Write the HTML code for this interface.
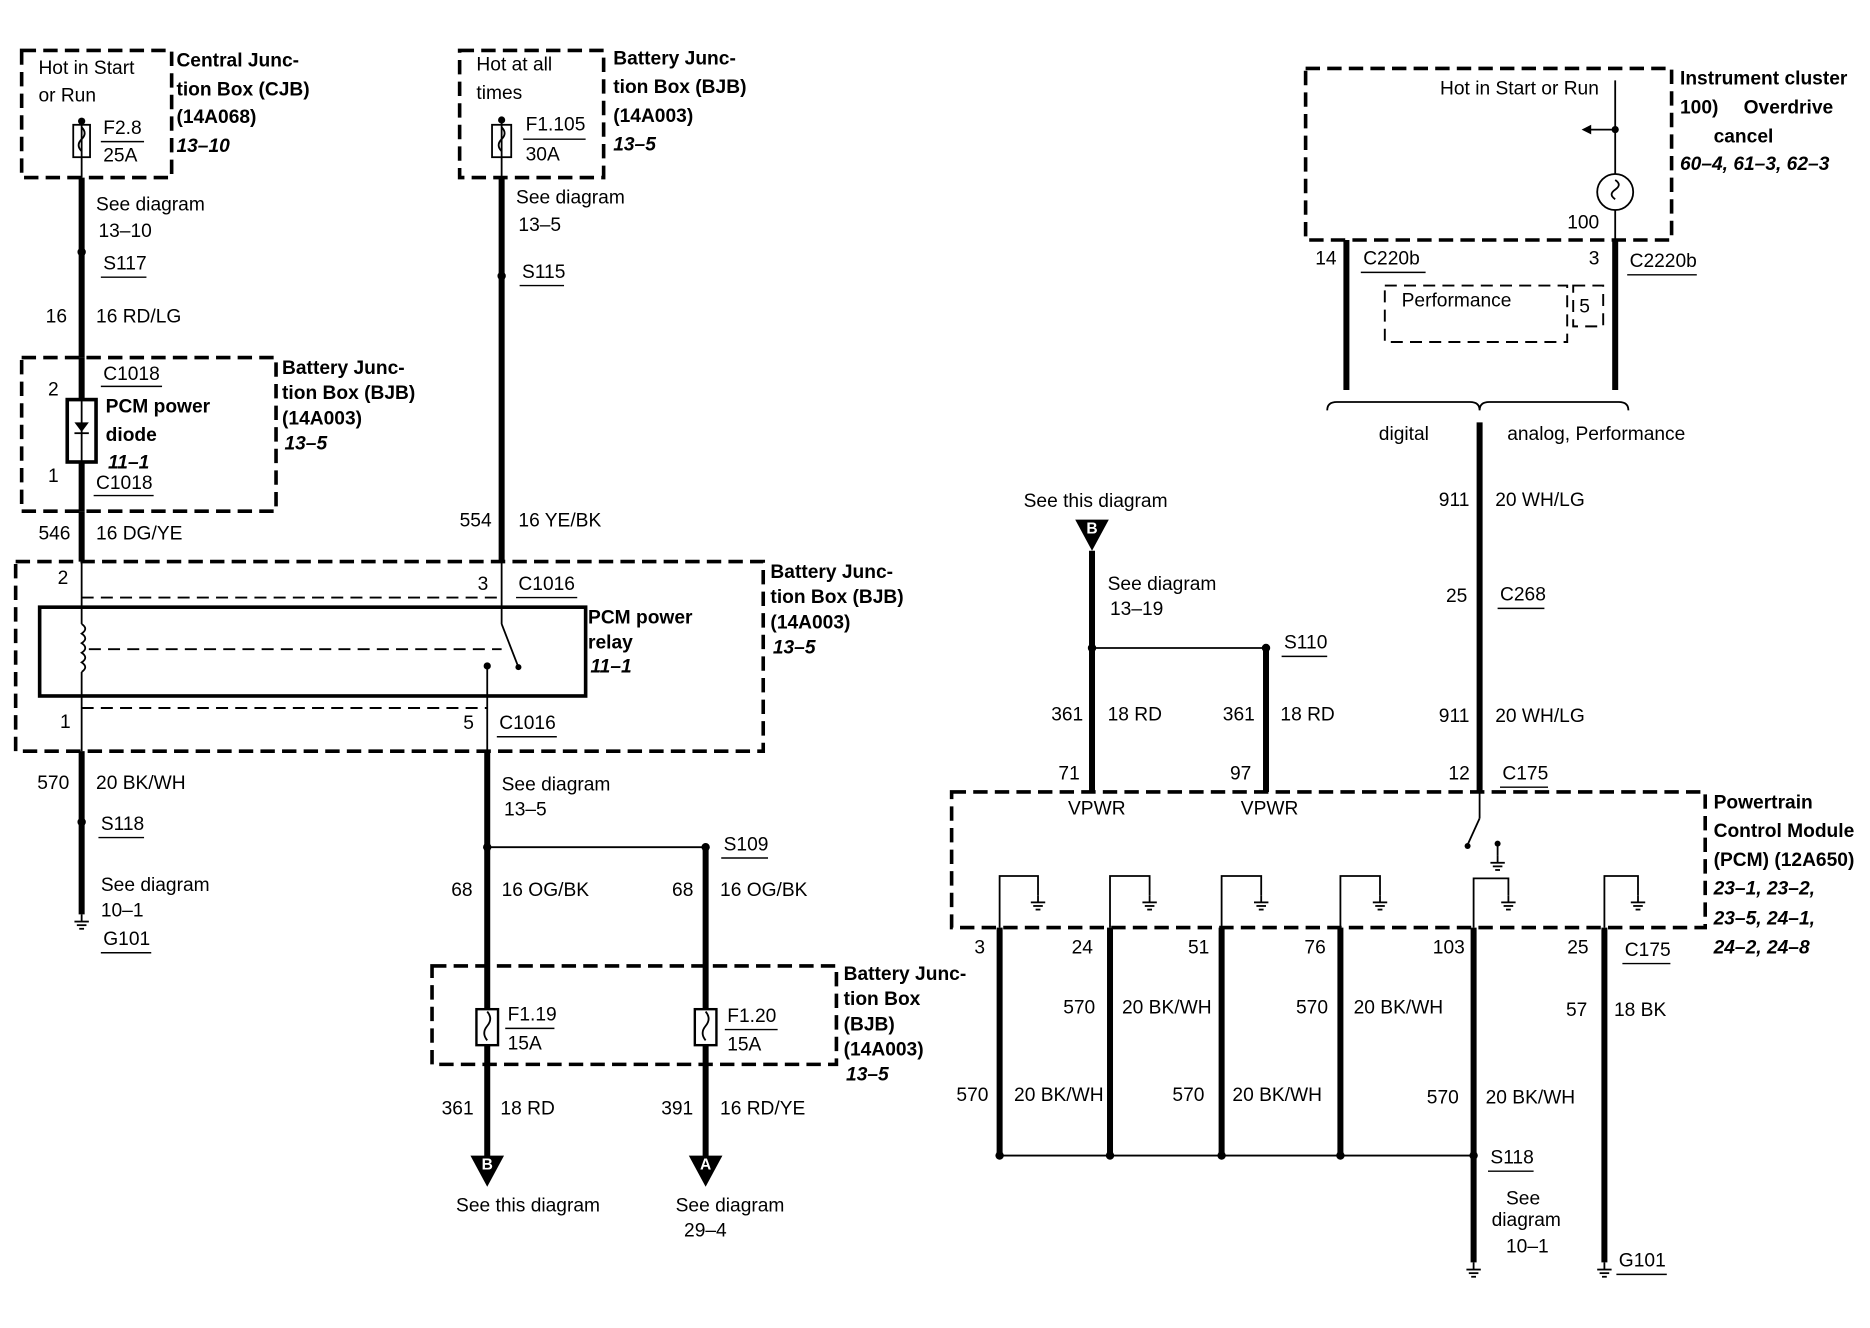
<!DOCTYPE html>
<html><head><meta charset="utf-8"><style>
html,body{margin:0;padding:0;background:#fff}
svg{display:block}
text{font-family:"Liberation Sans Narrow","Liberation Sans",sans-serif;font-size:16px;fill:#000;dominant-baseline:central}
.b{font-weight:bold}
.i{font-weight:bold;font-style:italic}
.w{stroke:#000;stroke-width:5;fill:none}
.t{stroke:#000;stroke-width:1.5;fill:none}
.d{stroke:#000;stroke-width:3;fill:none;stroke-dasharray:12 6}
.dt{stroke:#000;stroke-width:1.6;fill:none;stroke-dasharray:10 6}
.u{stroke:#000;stroke-width:1.2}
</style></head><body>
<svg width="1870" height="1328" viewBox="0 0 1558.3 1106.7" xmlns="http://www.w3.org/2000/svg">
<defs>
<g id="gnd"><line x1="0" y1="0" x2="0" y2="6" class="t"/><line x1="-6" y1="6" x2="6" y2="6" class="t"/><line x1="-4" y1="9" x2="4" y2="9" class="t"/><line x1="-2" y1="12" x2="2" y2="12" class="t"/></g>
</defs>

<!-- LEFT COLUMN -->
<rect x="18" y="42" width="125" height="106" class="d"/>
<text x="32" y="57">Hot in Start</text><text x="32" y="80">or Run</text>
<line x1="68" y1="100" x2="68" y2="148" class="t"/>
<circle cx="68" cy="101" r="3"/>
<rect x="61" y="104" width="14" height="27" class="t" stroke-width="2"/>
<path d="M68 106 q5 5 0 10 q-5 5 0 10" class="t"/>
<text x="86" y="107">F2.8</text><line x1="84" y1="118" x2="120" y2="118" class="u"/><text x="86" y="130">25A</text>
<text x="147" y="51" class="b">Central Junc-</text><text x="147" y="75" class="b">tion Box (CJB)</text>
<text x="147" y="98" class="b">(14A068)</text><text x="147" y="122" class="i">13–10</text>

<line x1="68" y1="148" x2="68" y2="298" class="w"/>
<text x="80" y="171">See diagram</text><text x="82" y="193">13–10</text>
<circle cx="68" cy="210" r="3.5"/><text x="86" y="220">S117</text><line x1="84" y1="231" x2="122" y2="231" class="u"/>
<text x="38" y="264">16</text><text x="80" y="264">16 RD/LG</text>

<rect x="18" y="298" width="212" height="128" class="d"/>
<text x="86" y="312">C1018</text><line x1="84" y1="322" x2="135" y2="322" class="u"/>
<text x="40" y="325">2</text>
<line x1="68" y1="298" x2="68" y2="426" class="w"/>
<rect x="56" y="333" width="24" height="52" fill="#fff" stroke="#000" stroke-width="3"/>
<line x1="68" y1="333" x2="68" y2="385" class="t"/>
<path d="M62 352 h12 l-6 8 z"/><line x1="62" y1="361" x2="74" y2="361" class="t"/>
<text x="88" y="339" class="b">PCM power</text><text x="88" y="363" class="b">diode</text>
<text x="90" y="386" class="i">11–1</text>
<text x="40" y="397">1</text><text x="80" y="403">C1018</text><line x1="78" y1="413" x2="128" y2="413" class="u"/>
<text x="235" y="307" class="b">Battery Junc-</text><text x="235" y="328" class="b">tion Box (BJB)</text>
<text x="235" y="349" class="b">(14A003)</text><text x="237" y="370" class="i">13–5</text>

<line x1="68" y1="426" x2="68" y2="468" class="w"/>
<text x="32" y="445">546</text><text x="80" y="445">16 DG/YE</text>

<!-- relay box -->
<rect x="13" y="468" width="623" height="158" class="d"/>
<text x="48" y="482">2</text><text x="398" y="487">3</text><text x="432" y="487">C1016</text><line x1="430" y1="498" x2="481" y2="498" class="u"/>
<line x1="68" y1="498" x2="418" y2="498" class="dt"/>
<rect x="33" y="506" width="455" height="74" fill="none" stroke="#000" stroke-width="3"/>
<line x1="68" y1="468" x2="68" y2="520" class="t" stroke-width="2"/>
<path d="M68 520 q6 4 0 8 q6 4 0 8 q6 4 0 8 q6 4 0 8 q6 4 0 8" class="t"/>
<line x1="68" y1="560" x2="68" y2="626" class="t" stroke-width="2"/>
<line x1="74" y1="541" x2="418" y2="541" class="dt"/>
<line x1="418" y1="468" x2="418" y2="520" class="t" stroke-width="2"/>
<line x1="418" y1="520" x2="432" y2="556" class="t" stroke-width="2"/><circle cx="432" cy="556" r="2.5"/>
<circle cx="406" cy="555" r="3"/><line x1="406" y1="555" x2="406" y2="626" class="t" stroke-width="2"/>
<line x1="68" y1="590" x2="406" y2="590" class="dt"/>
<text x="490" y="515" class="b">PCM power</text><text x="490" y="536" class="b">relay</text><text x="492" y="556" class="i">11–1</text>
<text x="50" y="602">1</text><text x="386" y="603">5</text><text x="416" y="603">C1016</text><line x1="414" y1="614" x2="464" y2="614" class="u"/>
<text x="642" y="477" class="b">Battery Junc-</text><text x="642" y="498" class="b">tion Box (BJB)</text>
<text x="642" y="519" class="b">(14A003)</text><text x="644" y="540" class="i">13–5</text>

<line x1="68" y1="626" x2="68" y2="762" class="w"/>
<text x="31" y="653">570</text><text x="80" y="653">20 BK/WH</text>
<circle cx="68" cy="685" r="3.5"/><text x="84" y="687">S118</text><line x1="82" y1="698" x2="120" y2="698" class="u"/>
<text x="84" y="738">See diagram</text><text x="84" y="759">10–1</text>
<text x="86" y="783">G101</text><line x1="84" y1="794" x2="126" y2="794" class="u"/>
<use href="#gnd" x="68" y="762"/>

<!-- SECOND COLUMN -->
<rect x="383" y="42" width="120" height="106" class="d"/>
<text x="397" y="54">Hot at all</text><text x="397" y="78">times</text>
<line x1="418" y1="100" x2="418" y2="148" class="t"/><circle cx="418" cy="100" r="3"/>
<rect x="410" y="104" width="16" height="27" class="t" stroke-width="2"/>
<path d="M418 106 q5 5 0 10 q-5 5 0 10" class="t"/>
<text x="438" y="104">F1.105</text><line x1="436" y1="116" x2="488" y2="116" class="u"/><text x="438" y="129">30A</text>
<text x="511" y="49" class="b">Battery Junc-</text><text x="511" y="73" class="b">tion Box (BJB)</text>
<text x="511" y="97" class="b">(14A003)</text><text x="511" y="121" class="i">13–5</text>
<line x1="418" y1="148" x2="418" y2="468" class="w"/>
<text x="430" y="165">See diagram</text><text x="432" y="188">13–5</text>
<circle cx="418" cy="230" r="3.5"/><text x="435" y="227">S115</text><line x1="433" y1="238" x2="470" y2="238" class="u"/>
<text x="383" y="434">554</text><text x="432" y="434">16 YE/BK</text>

<line x1="406" y1="626" x2="406" y2="840" class="w"/>
<text x="418" y="654">See diagram</text><text x="420" y="675">13–5</text>
<circle cx="406" cy="706" r="3.5"/><line x1="406" y1="706" x2="588" y2="706" class="t"/><circle cx="588" cy="706" r="3.5"/>
<text x="603" y="704">S109</text><line x1="601" y1="715" x2="640" y2="715" class="u"/>
<line x1="588" y1="706" x2="588" y2="840" class="w"/>
<text x="376" y="742">68</text><text x="418" y="742">16 OG/BK</text><text x="560" y="742">68</text><text x="600" y="742">16 OG/BK</text>
<rect x="360" y="805" width="337" height="82" class="d"/>
<rect x="397" y="841" width="18" height="30" fill="#fff" stroke="#000" stroke-width="2"/><path d="M406 843 q5 6 0 12 q-5 6 0 12" class="t"/>
<rect x="579" y="841" width="18" height="30" fill="#fff" stroke="#000" stroke-width="2"/><path d="M588 843 q5 6 0 12 q-5 6 0 12" class="t"/>
<text x="423" y="846">F1.19</text><line x1="421" y1="857" x2="462" y2="857" class="u"/><text x="423" y="870">15A</text>
<text x="606" y="847">F1.20</text><line x1="604" y1="858" x2="648" y2="858" class="u"/><text x="606" y="871">15A</text>
<text x="703" y="812" class="b">Battery Junc-</text><text x="703" y="833" class="b">tion Box</text><text x="703" y="854" class="b">(BJB)</text>
<text x="703" y="875" class="b">(14A003)</text><text x="705" y="896" class="i">13–5</text>
<line x1="406" y1="871" x2="406" y2="965" class="w"/><line x1="588" y1="871" x2="588" y2="965" class="w"/>
<text x="368" y="924">361</text><text x="417" y="924">18 RD</text><text x="551" y="924">391</text><text x="600" y="924">16 RD/YE</text>
<path d="M392 963 h28 l-14 26 z"/><text x="406" y="971" style="fill:#fff;font-size:13px" text-anchor="middle" class="b">B</text>
<path d="M574 963 h28 l-14 26 z"/><text x="588" y="971" style="fill:#fff;font-size:13px" text-anchor="middle" class="b">A</text>
<text x="380" y="1005">See this diagram</text><text x="563" y="1005">See diagram</text><text x="570" y="1026">29–4</text>

<!-- INSTRUMENT CLUSTER -->
<rect x="1088" y="57" width="305" height="143" class="d"/>
<text x="1200" y="74">Hot in Start or Run</text>
<line x1="1346" y1="67" x2="1346" y2="145" class="t" stroke-width="2"/>
<circle cx="1346" cy="108" r="3"/><line x1="1346" y1="108" x2="1324" y2="108" class="t" stroke-width="2"/><path d="M1318 108 l8 -4 v8 z"/>
<circle cx="1346" cy="160" r="15" class="t" stroke-width="2"/><path d="M1346 150 q6 4 0 8 q-6 4 0 8" class="t"/>
<line x1="1346" y1="175" x2="1346" y2="200" class="t" stroke-width="2"/>
<text x="1306" y="186">100</text>
<text x="1400" y="66" class="b">Instrument cluster</text><text x="1400" y="90" class="b">100)</text><text x="1453" y="90" class="b">Overdrive</text>
<text x="1428" y="114" class="b">cancel</text><text x="1400" y="137" class="i">60–4, 61–3, 62–3</text>
<text x="1096" y="216">14</text><text x="1136" y="216">C220b</text><line x1="1134" y1="227" x2="1188" y2="227" class="u"/>
<text x="1324" y="216">3</text><text x="1358" y="218">C2220b</text><line x1="1356" y1="229" x2="1414" y2="229" class="u"/>
<line x1="1122" y1="200" x2="1122" y2="325" class="w"/><line x1="1346" y1="200" x2="1346" y2="325" class="w"/>
<rect x="1154" y="238" width="152" height="47" class="dt" stroke-width="2"/>
<text x="1168" y="251">Performance</text>
<rect x="1311" y="238" width="25" height="34" class="dt" stroke-width="2"/><text x="1316" y="256">5</text>
<path d="M1106 342 q0 -7 8 -7 H1225 q8 0 8 7 q0 -7 8 -7 H1349 q8 0 8 7" class="t" stroke-width="2.5"/>
<text x="1149" y="362">digital</text><text x="1256" y="362">analog, Performance</text>

<line x1="1233" y1="352" x2="1233" y2="660" class="w"/>
<text x="1199" y="417">911</text><text x="1246" y="417">20 WH/LG</text>
<text x="1205" y="497">25</text><text x="1250" y="496">C268</text><line x1="1248" y1="507" x2="1287" y2="507" class="u"/>
<text x="1199" y="597">911</text><text x="1246" y="597">20 WH/LG</text>
<text x="1207" y="645">12</text><text x="1252" y="645">C175</text><line x1="1250" y1="656" x2="1290" y2="656" class="u"/>

<text x="853" y="418">See this diagram</text>
<path d="M896 433 h28 l-14 26 z"/><text x="910" y="441" style="fill:#fff;font-size:13px" text-anchor="middle" class="b">B</text>
<line x1="910" y1="459" x2="910" y2="660" class="w"/>
<text x="923" y="487">See diagram</text><text x="925" y="508">13–19</text>
<circle cx="910" cy="540" r="3.5"/><line x1="910" y1="540" x2="1055" y2="540" class="t"/><circle cx="1055" cy="540" r="3.5"/>
<text x="1070" y="536">S110</text><line x1="1068" y1="547" x2="1106" y2="547" class="u"/>
<line x1="1055" y1="540" x2="1055" y2="660" class="w"/>
<text x="876" y="596">361</text><text x="923" y="596">18 RD</text><text x="1019" y="596">361</text><text x="1067" y="596">18 RD</text>
<text x="882" y="645">71</text><text x="1025" y="645">97</text>
<text x="890" y="674">VPWR</text><text x="1034" y="674">VPWR</text>

<!-- PCM -->
<rect x="793" y="660" width="628" height="113" class="d"/>
<text x="1428" y="669" class="b">Powertrain</text><text x="1428" y="693" class="b">Control Module</text>
<text x="1428" y="717" class="b">(PCM) (12A650)</text><text x="1428" y="741" class="i">23–1, 23–2,</text>
<text x="1428" y="766" class="i">23–5, 24–1,</text><text x="1428" y="790" class="i">24–2, 24–8</text>
<line x1="1233" y1="660" x2="1233" y2="682" class="t" stroke-width="2"/><line x1="1233" y1="682" x2="1223" y2="704" class="t" stroke-width="2"/><circle cx="1223" cy="705" r="2.5"/>
<circle cx="1248" cy="703" r="2.5"/><line x1="1248" y1="703" x2="1248" y2="713" class="t" stroke-width="2"/><use href="#gnd" x="1248" y="713"/>
<g class="t" stroke-width="2">
<path d="M833 773 V730 H865 V746"/><path d="M925 773 V730 H958 V746"/><path d="M1018 773 V730 H1051 V746"/>
<path d="M1117 773 V730 H1150 V746"/><path d="M1228 773 V732 H1257 V746"/><path d="M1337 773 V730 H1365 V746"/>
</g>
<use href="#gnd" x="865" y="746"/><use href="#gnd" x="958" y="746"/><use href="#gnd" x="1051" y="746"/>
<use href="#gnd" x="1150" y="746"/><use href="#gnd" x="1257" y="746"/><use href="#gnd" x="1365" y="746"/>
<text x="812" y="790">3</text><text x="893" y="790">24</text><text x="990" y="790">51</text><text x="1087" y="790">76</text><text x="1194" y="790">103</text><text x="1306" y="790">25</text>
<text x="1354" y="792">C175</text><line x1="1352" y1="803" x2="1392" y2="803" class="u"/>
<line x1="833" y1="773" x2="833" y2="963" class="w"/><line x1="925" y1="773" x2="925" y2="963" class="w"/>
<line x1="1018" y1="773" x2="1018" y2="963" class="w"/><line x1="1117" y1="773" x2="1117" y2="963" class="w"/>
<line x1="1228" y1="773" x2="1228" y2="1052" class="w"/><line x1="1337" y1="773" x2="1337" y2="1052" class="w"/>
<text x="886" y="840">570</text><text x="935" y="840">20 BK/WH</text><text x="1080" y="840">570</text><text x="1128" y="840">20 BK/WH</text>
<text x="1305" y="842">57</text><text x="1345" y="842">18 BK</text>
<text x="797" y="913">570</text><text x="845" y="913">20 BK/WH</text><text x="977" y="913">570</text><text x="1027" y="913">20 BK/WH</text>
<text x="1189" y="915">570</text><text x="1238" y="915">20 BK/WH</text>
<line x1="833" y1="963" x2="1228" y2="963" class="t"/>
<circle cx="833" cy="963" r="3.5"/><circle cx="925" cy="963" r="3.5"/><circle cx="1018" cy="963" r="3.5"/><circle cx="1117" cy="963" r="3.5"/><circle cx="1228" cy="963" r="3.5"/>
<text x="1242" y="965">S118</text><line x1="1240" y1="976" x2="1278" y2="976" class="u"/>
<text x="1255" y="999">See</text><text x="1243" y="1017">diagram</text><text x="1255" y="1039">10–1</text>
<text x="1349" y="1051">G101</text><line x1="1347" y1="1062" x2="1389" y2="1062" class="u"/>
<use href="#gnd" x="1228" y="1052"/><use href="#gnd" x="1337" y="1052"/>
</svg>
</body></html>
